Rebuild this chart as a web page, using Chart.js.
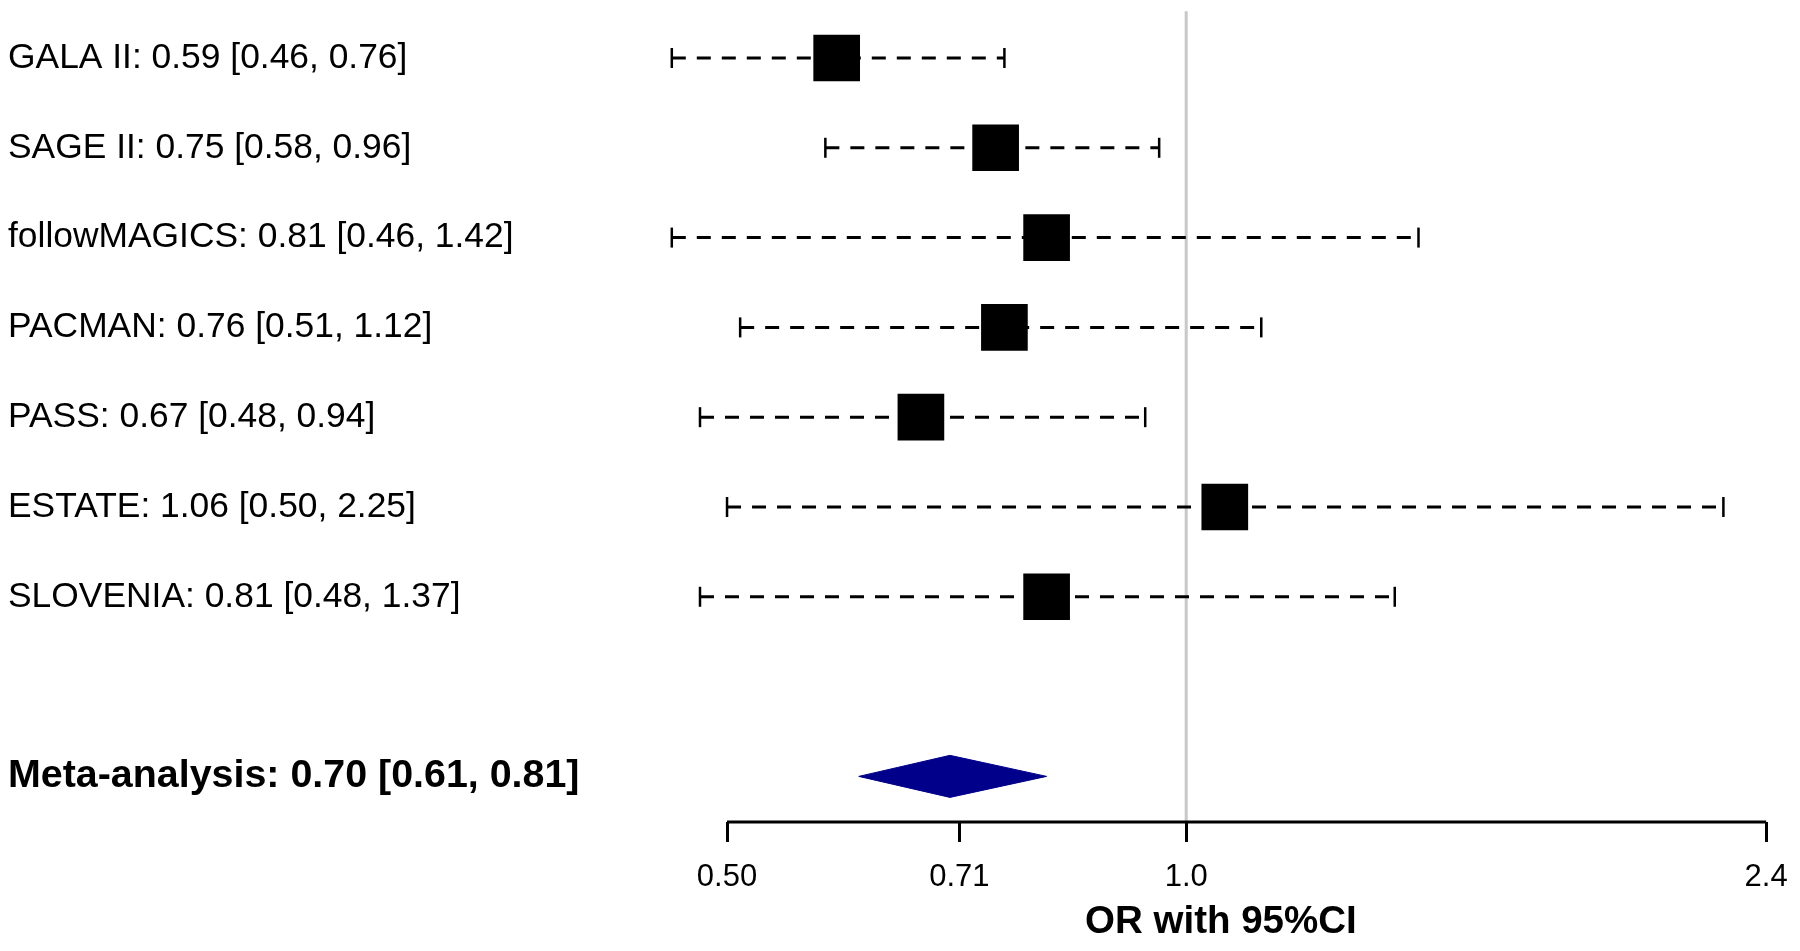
<!DOCTYPE html>
<html>
<head>
<meta charset="utf-8">
<script src="https://cdn.jsdelivr.net/npm/chart.js@4/dist/chart.umd.min.js"></script>
<style>
  html, body { margin: 0; padding: 0; background: #ffffff; overflow: hidden; }
  #c { display: block; }
</style>
</head>
<body>
<canvas id="c" width="1800" height="951"></canvas>
<script>
// ---- data ----
const studies  = ['GALA II', 'SAGE II', 'followMAGICS', 'PACMAN', 'PASS', 'ESTATE', 'SLOVENIA'];
const orValues = [0.59, 0.75, 0.81, 0.76, 0.67, 1.06, 0.81];
const ciLower  = [0.46, 0.58, 0.46, 0.51, 0.48, 0.50, 0.48];
const ciUpper  = [0.76, 0.96, 1.42, 1.12, 0.94, 2.25, 1.37];
const metaName  = 'Meta-analysis';
const metaOR    = 0.70;
const metaLower = 0.61;
const metaUpper = 0.81;
const tickValues = [0.5, 0.71, 1.0, 2.4];
const tickLabels = ['0.50', '0.71', '1.0', '2.4'];
const axisTitle  = 'OR with 95%CI';
const refValue   = 1.0;

// ---- rows ----
const rows = studies.map((_, i) => i);
const metaRow = studies.length + 1;
const Y_MIN = -0.6, Y_MAX = 8.508;
const X_MIN = 0.46, X_MAX = 2.414;
const FONT = "'Liberation Sans', Arial, Helvetica, sans-serif";

const fmt = v => v.toFixed(2);
const rowLabels = {};
studies.forEach((s, i) => {
  rowLabels[i] = `${s}: ${fmt(orValues[i])} [${fmt(ciLower[i])}, ${fmt(ciUpper[i])}]`;
});
rowLabels[metaRow] = `${metaName}: ${fmt(metaOR)} [${fmt(metaLower)}, ${fmt(metaUpper)}]`;

const datasets = [];
// squares
datasets.push({
  type: 'scatter', label: 'OR',
  data: studies.map((_, i) => ({x: orValues[i], y: i})),
  pointStyle: 'rect', pointRadius: 33, pointHoverRadius: 33,
  backgroundColor: '#000', borderColor: '#000', borderWidth: 0,
  clip: false, order: 0
});
// caps
const caps = [];
studies.forEach((_, i) => { caps.push({x: ciLower[i], y: i}); caps.push({x: ciUpper[i], y: i}); });
datasets.push({
  type: 'scatter', label: 'caps', data: caps,
  pointStyle: 'line', rotation: 90, pointRadius: 10, pointHoverRadius: 10,
  borderColor: '#000', borderWidth: 2.5, clip: false, order: 1
});
// dashed CI lines
studies.forEach((_, i) => {
  datasets.push({
    type: 'line', label: 'ci' + i,
    data: [{x: ciLower[i], y: i}, {x: ciUpper[i], y: i}],
    borderColor: '#000', borderWidth: 3, borderDash: [14, 11],
    pointRadius: 0, fill: false, tension: 0, clip: false, order: 2
  });
});
// diamond
const dh = 0.234;
datasets.push({
  type: 'line', label: 'meta',
  data: [
    {x: metaLower, y: metaRow}, {x: metaOR, y: metaRow - dh},
    {x: metaUpper, y: metaRow}, {x: metaOR, y: metaRow + dh},
    {x: metaLower, y: metaRow}
  ],
  borderColor: '#00008B', borderWidth: 1, backgroundColor: '#00008B',
  fill: 'shape', pointRadius: 0, tension: 0, clip: false, order: 3
});
// x axis line (from first to last tick)
datasets.push({
  type: 'line', label: 'axis',
  data: [{x: tickValues[0], y: Y_MAX}, {x: tickValues[tickValues.length - 1], y: Y_MAX}],
  borderColor: '#000', borderWidth: 3, pointRadius: 0, clip: false, order: 4
});
// reference line at OR = 1
datasets.push({
  type: 'line', label: 'ref',
  data: [{x: refValue, y: -0.52}, {x: refValue, y: Y_MAX}],
  borderColor: '#c8c8c8', borderWidth: 3, pointRadius: 0, clip: false, order: 5
});

Chart.defaults.color = '#000';
Chart.defaults.font.family = FONT;

new Chart(document.getElementById('c'), {
  type: 'scatter',
  data: { datasets },
  options: {
    responsive: false,
    devicePixelRatio: 1,
    animation: false,
    events: [],
    layout: { autoPadding: false, padding: { left: 8, right: 30, top: 4.1, bottom: 0 } },
    plugins: { legend: { display: false }, tooltip: { enabled: false }, title: { display: false } },
    scales: {
      x: {
        type: 'logarithmic', position: 'bottom',
        min: X_MIN, max: X_MAX, bounds: 'data',
        afterBuildTicks: (scale) => { scale.ticks = tickValues.map(v => ({value: v})); },
        afterFit: (scale) => { scale.height = 129; scale.paddingLeft = 0; scale.paddingRight = 0; },
        ticks: {
          autoSkip: false, maxRotation: 0, minRotation: 0, padding: 17,
          font: { size: 31, family: FONT }, color: '#000',
          callback: (v, i) => tickLabels[i]
        },
        grid: { display: true, drawOnChartArea: false, drawTicks: true, tickLength: 20,
                tickWidth: 3, color: '#000', tickColor: '#000' },
        border: { display: false },
        title: { display: true, text: axisTitle, color: '#000',
                 font: { size: 38.5, weight: 'bold', family: FONT },
                 padding: { top: 0, bottom: 6 } }
      },
      y: {
        type: 'linear', position: 'left', reverse: true,
        min: Y_MIN, max: Y_MAX,
        afterBuildTicks: (scale) => { scale.ticks = rows.concat([metaRow]).map(v => ({value: v})); },
        afterFit: (scale) => { scale.width = 663.8; scale.paddingTop = 0; scale.paddingBottom = 0; },
        ticks: {
          autoSkip: false, crossAlign: 'far', padding: 0, color: '#000',
          font: (ctx) => (ctx.tick && ctx.tick.value === metaRow)
            ? { size: 39.4, weight: 'bold', family: FONT }
            : { size: 35.4, weight: 'normal', family: FONT },
          callback: (v) => rowLabels[v] || ''
        },
        grid: { display: false },
        border: { display: false }
      }
    }
  }
});
</script>
</body>
</html>
